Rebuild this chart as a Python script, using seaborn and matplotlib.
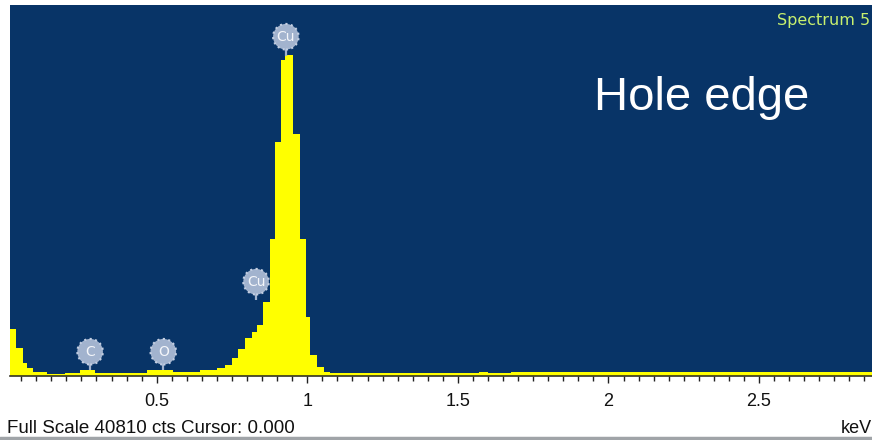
import matplotlib
matplotlib.use("Agg")
import matplotlib.pyplot as plt
from matplotlib.lines import Line2D
from matplotlib.ticker import MultipleLocator, FixedLocator, FixedFormatter
import pandas as pd
import seaborn as sns

# EDS spectrum: channel boundaries (keV) and counts per channel
energy_edges = [0.013, 0.033, 0.055, 0.068, 0.090, 0.135, 0.196, 0.245, 0.295,
                0.467, 0.555, 0.644, 0.699, 0.727, 0.749, 0.771, 0.793, 0.816,
                0.832, 0.852, 0.876, 0.893, 0.913, 0.927, 0.954, 0.976, 0.996,
                1.009, 1.033, 1.056, 1.076, 1.570, 1.600, 1.675, 2.875]
counts = [5140, 3050, 1400, 850, 470, 170, 360, 660, 360,
          660, 470, 660, 850, 1210, 1950, 2940, 4150,
          4870, 5610, 8170, 15070, 25770, 34800, 35300, 26620, 15070,
          6490, 2310, 990, 450, 280, 420, 280, 450]

# Element markers: label, energy, marker height and stem foot (counts)
peak_labels = ["C", "O", "Cu", "Cu"]
peak_energy = [0.279, 0.522, 0.830, 0.929]
label_counts = [2670, 2670, 10370, 37320]
stem_foot = [660, 660, 8360, 35200]

tick_values = [0.5, 1.0, 1.5, 2.0, 2.5]
tick_labels = ["0.5", "1", "1.5", "2", "2.5"]
full_scale = 40810

NAVY = "#083467"
YELLOW = "#ffff00"
MARKER = "#a2b3ce"

sns.set_style("ticks")
plt.rcParams["font.family"] = ["Liberation Sans", "DejaVu Sans"]

fig = plt.figure(figsize=(8.72, 4.40), dpi=100)
fig.patch.set_facecolor("white")
ax = fig.add_axes([10 / 872, 64 / 440, 1 - 10 / 872, 371 / 440])
ax.set_facecolor(NAVY)

centers = [(a + b) / 2 for a, b in zip(energy_edges[:-1], energy_edges[1:])]
spec = pd.DataFrame({"energy": centers, "counts": counts})
sns.histplot(data=spec, x="energy", weights="counts", bins=energy_edges,
             element="step", fill=True, color=YELLOW, alpha=1.0,
             linewidth=0, ax=ax, zorder=2)

# element identification markers
ax.vlines(peak_energy, stem_foot, label_counts, color=MARKER, lw=1.6, zorder=3)
ax.scatter(peak_energy, label_counts, s=340, color=MARKER, edgecolors="#c4cfe2",
           linewidths=1.5, linestyles=":", zorder=4)
for lab, e, c in zip(peak_labels, peak_energy, label_counts):
    ax.text(e, c, lab, ha="center", va="center", fontsize=10, color="#f4f6fa",
            family="DejaVu Sans", zorder=5)

ax.set_xlim(energy_edges[0], energy_edges[-1])
ax.set_ylim(0, full_scale)
ax.set_xlabel("")
ax.set_ylabel("")
ax.set_yticks([])

ax.xaxis.set_major_locator(FixedLocator(tick_values))
ax.xaxis.set_major_formatter(FixedFormatter(tick_labels))
ax.xaxis.set_minor_locator(MultipleLocator(0.05))
ax.tick_params(axis="x", which="major", length=5, width=1, color="#222222",
               labelsize=13, pad=7, labelcolor="#111111")
ax.tick_params(axis="x", which="minor", length=3.5, width=1, color="#222222")

for side in ["top", "left", "right"]:
    ax.spines[side].set_visible(False)
ax.spines["bottom"].set_color("#333322")
ax.spines["bottom"].set_linewidth(1.2)

fig.text(594 / 872, (440 - 110) / 440, "Hole edge", fontsize=34, color="white",
         va="baseline", ha="left")
fig.text(777 / 872, (440 - 25) / 440, "Spectrum 5", fontsize=11.5,
         color="#c8f06e", va="baseline", ha="left", family="DejaVu Sans")
fig.text(7 / 872, (440 - 433) / 440, "Full Scale 40810 cts Cursor: 0.000",
         fontsize=13.5, color="#111111", va="baseline", ha="left")
fig.text(841 / 872, (440 - 433) / 440, "keV", fontsize=13, color="#111111",
         va="baseline", ha="left")

fig.add_artist(Line2D([0, 1], [2.5 / 440, 2.5 / 440], transform=fig.transFigure,
                      color="#a0a4a8", lw=2.5))

fig.savefig("out.png", dpi=100)
